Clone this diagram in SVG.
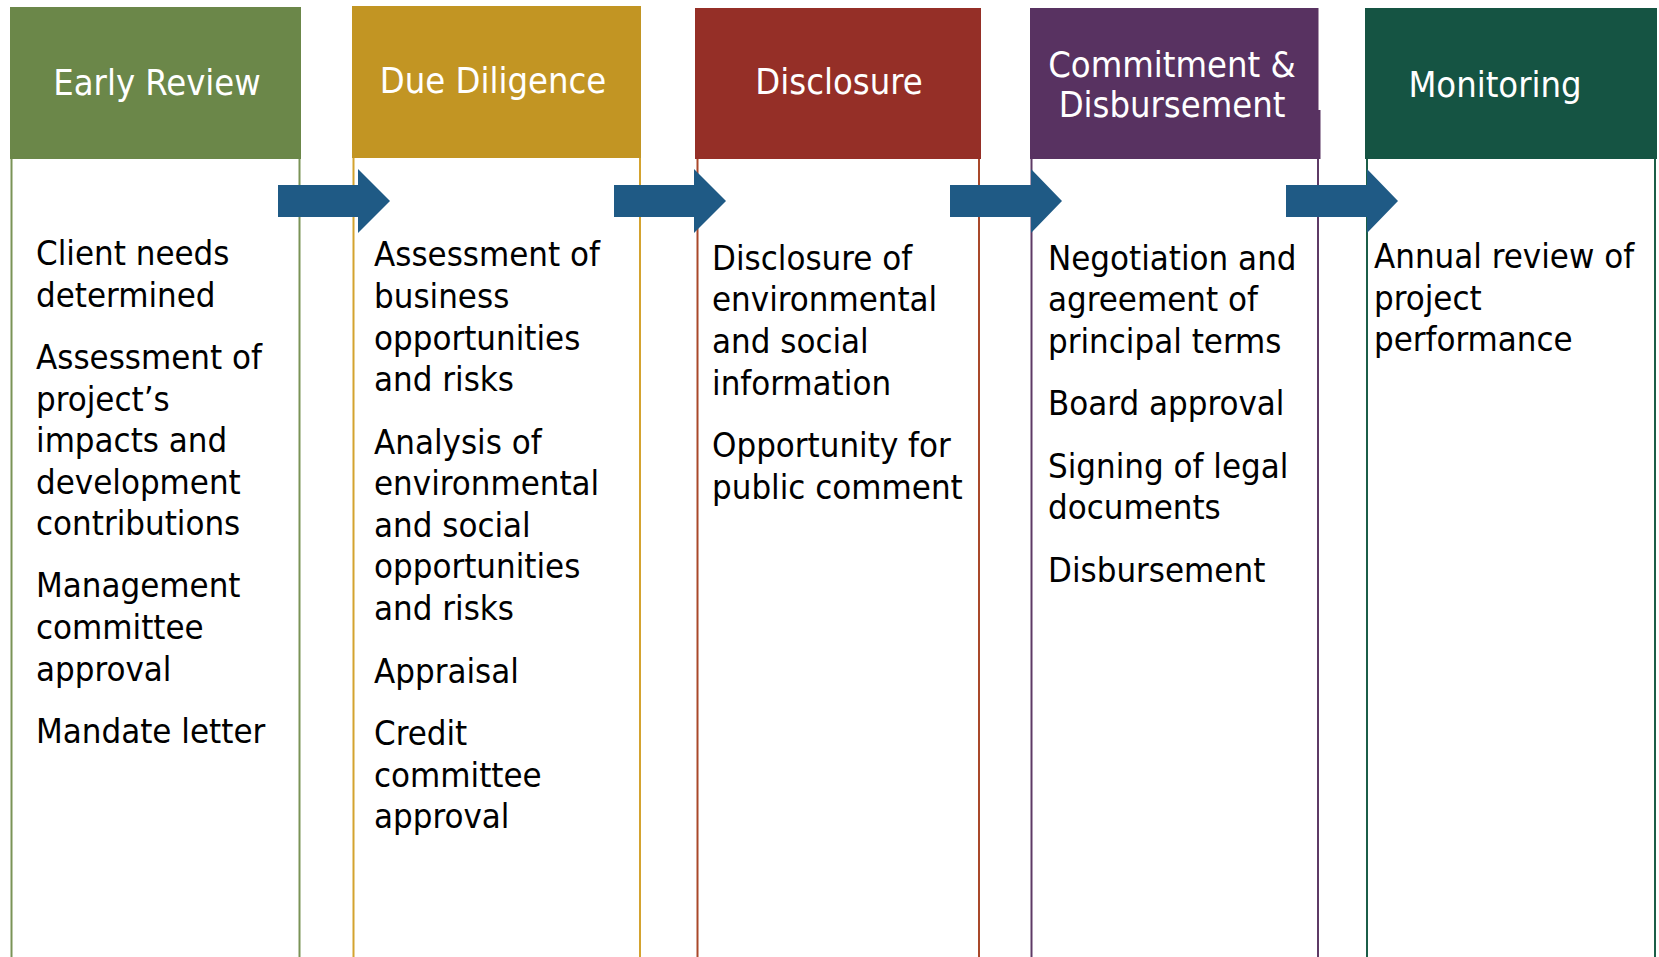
<svg xmlns="http://www.w3.org/2000/svg" width="1659" height="957" viewBox="0 0 1659 957">
<style>
.body{fill:#ffffff;stroke-width:2}
.hd{font-family:'DejaVu Sans Condensed','DejaVu Sans',sans-serif;font-stretch:condensed;font-size:36px;fill:#ffffff;text-anchor:middle}
.tx{font-family:'DejaVu Sans Condensed','DejaVu Sans',sans-serif;font-stretch:condensed;font-size:34.5px;fill:#000000}
.arrow{fill:#1f5a85}
</style>
<rect x="0" y="0" width="1659" height="957" fill="#ffffff"/>
<g id="early-review">
<rect class="body" x="11.5" y="150" width="288" height="830" stroke="#7a9357"/>
<rect x="10" y="7" width="291" height="152" fill="#6b8749"/>
<text class="hd" x="157" y="95">Early Review</text>
<text class="tx"><tspan x="36" y="265">Client needs</tspan><tspan x="36" y="307">determined</tspan><tspan x="36" y="369">Assessment of</tspan><tspan x="36" y="411">project’s</tspan><tspan x="36" y="452">impacts and</tspan><tspan x="36" y="494">development</tspan><tspan x="36" y="535">contributions</tspan><tspan x="36" y="597">Management</tspan><tspan x="36" y="639">committee</tspan><tspan x="36" y="681">approval</tspan><tspan x="36" y="743">Mandate letter</tspan></text>
</g>
<g id="due-diligence">
<rect class="body" x="353.5" y="150" width="286.5" height="830" stroke="#d4a32f"/>
<rect x="352" y="6" width="289" height="152" fill="#c29523"/>
<text class="hd" x="493" y="93">Due Diligence</text>
<text class="tx"><tspan x="374" y="266">Assessment of</tspan><tspan x="374" y="308">business</tspan><tspan x="374" y="350">opportunities</tspan><tspan x="374" y="391">and risks</tspan><tspan x="374" y="454">Analysis of</tspan><tspan x="374" y="495">environmental</tspan><tspan x="374" y="537">and social</tspan><tspan x="374" y="578">opportunities</tspan><tspan x="374" y="620">and risks</tspan><tspan x="374" y="683">Appraisal</tspan><tspan x="374" y="745">Credit</tspan><tspan x="374" y="787">committee</tspan><tspan x="374" y="828">approval</tspan></text>
</g>
<g id="disclosure">
<rect class="body" x="697.5" y="150" width="281.5" height="830" stroke="#a9482a"/>
<rect x="695" y="8" width="286" height="151" fill="#952f27"/>
<text class="hd" x="839" y="94">Disclosure</text>
<text class="tx"><tspan x="712" y="270">Disclosure of</tspan><tspan x="712" y="311">environmental</tspan><tspan x="712" y="353">and social</tspan><tspan x="712" y="395">information</tspan><tspan x="712" y="457">Opportunity for</tspan><tspan x="712" y="499">public comment</tspan></text>
</g>
<g id="commitment-disbursement">
<rect class="body" x="1031.5" y="150" width="286.5" height="830" stroke="#5e3a66"/>
<rect x="1030" y="8" width="288.5" height="151" fill="#583261"/>
<rect x="1318" y="110" width="2.5" height="49" fill="#583261"/>
<text class="hd" x="1172"><tspan x="1172" y="77">Commitment &amp;</tspan><tspan x="1172" y="117">Disbursement</tspan></text>
<text class="tx"><tspan x="1048" y="270">Negotiation and</tspan><tspan x="1048" y="311">agreement of</tspan><tspan x="1048" y="353">principal terms</tspan><tspan x="1048" y="415">Board approval</tspan><tspan x="1048" y="478">Signing of legal</tspan><tspan x="1048" y="519">documents</tspan><tspan x="1048" y="582">Disbursement</tspan></text>
</g>
<g id="monitoring">
<rect class="body" x="1367" y="150" width="288" height="830" stroke="#1b5e48"/>
<rect x="1365" y="8" width="292" height="151" fill="#155443"/>
<text class="hd" x="1495" y="97">Monitoring</text>
<text class="tx"><tspan x="1374" y="268">Annual review of</tspan><tspan x="1374" y="310">project</tspan><tspan x="1374" y="351">performance</tspan></text>
</g>
<g id="connectors">
<polygon class="arrow" points="278,185 358,185 358,169 390,201 358,233 358,217 278,217"/>
<polygon class="arrow" points="614,185 694,185 694,169 726,201 694,233 694,217 614,217"/>
<polygon class="arrow" points="950,185 1031,185 1031,169 1062,201 1031,233 1031,217 950,217"/>
<polygon class="arrow" points="1286,185 1367,185 1367,169 1398,201 1367,233 1367,217 1286,217"/>
</g>
</svg>
